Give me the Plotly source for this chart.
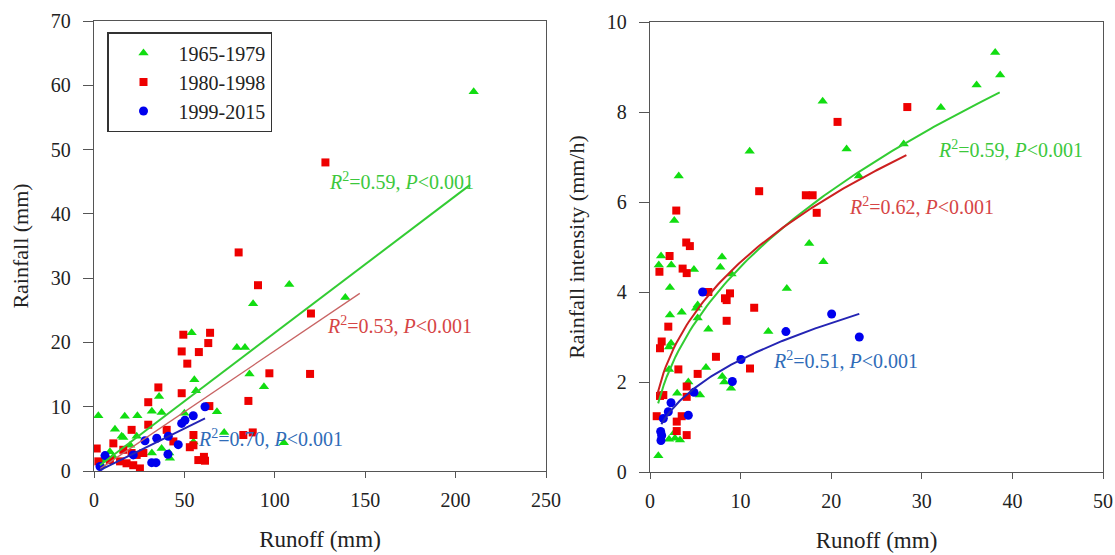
import numpy as np
import plotly.graph_objects as go

# ---------------- data: left panel (Runoff vs Rainfall) ----------------
period_names = ["1965-1979", "1980-1998", "1999-2015"]

left_g_x = [210, 139, 108, 88, 79, 83.5, 86, 94, 54, 55.5, 56.4, 36, 32, 37.4, 24, 17, 2.4, 50, 68,
            72, 11.6, 15.3, 16.2, 23.6, 37.4, 42, 55, 105, 20, 8.8, 10.7, 32, 41.6, 6, 4.2]
left_g_y = [59, 27, 29, 26, 19.2, 19.2, 15.1, 13.1, 21.5, 14.2, 12.5, 11.6, 9.3, 9.1, 8.6, 8.5, 8.6, 9.0, 9.2,
            6.0, 6.5, 5.4, 5.2, 5.4, 3.5, 2.0, 4.5, 4.4, 4.0, 3.0, 2.2, 2.8, 2.8, 1.7, 0.9]

left_r_x = [128, 80, 90.7, 120, 119.5, 97, 85.4, 64.2, 63.2, 58, 49.4, 48.5, 51.6, 48.5, 63.8, 82.6, 87.8,
            55, 55, 53, 57.7, 61.4, 60.8, 35.6, 30, 20.8, 30, 40.2, 10.7, 1.5, 16.2, 20.8, 23.6, 27.3,
            43.9, 8.8, 14.4, 18, 25.4, 21.7, 2.4]
left_r_y = [48, 34, 28.9, 24.5, 15.1, 15.2, 10.9, 21.5, 19.9, 18.5, 21.2, 18.6, 16.7, 12.1, 10.1, 5.6, 6.0,
            5.6, 4.0, 3.7, 1.7, 1.6, 2.2, 13.0, 10.7, 6.4, 7.2, 6.4, 4.3, 3.5, 3.3, 2.8, 2.5, 2.8,
            4.6, 1.7, 1.5, 1.2, 0.4, 0.9, 1.5]

left_b_x = [3.3, 6.1, 21.7, 28.2, 34.7, 41.1, 46.6, 31.9, 34.3, 40.9, 48.5, 50.3, 54.9, 61.4]
left_b_y = [0.7, 2.4, 2.5, 4.7, 5.1, 5.4, 4.1, 1.3, 1.3, 2.6, 7.4, 7.9, 8.6, 10.0]

# linear fits: slope, intercept, x-start, x-end
left_fit_slope = [0.213, 0.19, 0.1386]
left_fit_icpt = [0.2, -0.3, -0.31]
left_fit_x0 = [3.3, 3.5, 3.3]
left_fit_x1 = [208, 147, 61.4]
left_fit_labels = ["0.59", "0.53", "0.70"]
left_lab_x = [129, 128, 56.4]
left_lab_y = [45.1, 22.7, 5.1]

# ---------------- data: right panel (Runoff vs Rainfall intensity) ----------------
right_g_x = [38.1, 38.65, 36.05, 32.1, 19.06, 28.0, 21.7, 11.0, 23.06, 3.17, 2.68, 17.57, 19.14, 1.22, 0.97,
             2.35, 4.85, 7.95, 7.76, 9.0, 15.1, 2.2, 3.5, 2.2, 5.26, 5.08, 5.26, 6.44, 13.06, 2.32, 2.1,
             2.1, 6.18, 7.98, 8.2, 8.94, 4.23, 5.52, 3.0, 2.1, 2.76, 3.31, 2.68, 0.92]
right_g_y = [9.32, 8.82, 8.6, 8.1, 8.24, 7.29, 7.18, 7.13, 6.58, 6.58, 5.59, 5.08, 4.67, 4.8, 4.6,
             4.6, 4.5, 4.78, 4.55, 4.4, 4.08, 4.1, 3.55, 3.49, 3.71, 3.64, 3.42, 3.17, 3.12, 2.86, 2.78,
             2.28, 2.32, 2.12, 2.0, 1.86, 2.0, 1.71, 1.75, 0.73, 0.75, 0.71, 0.87, 0.36]

right_r_x = [28.4, 20.7, 12.05, 17.2, 17.95, 18.4, 2.9, 2.16, 4.0, 4.4, 1.04, 3.6, 4.05, 6.44, 8.28, 8.83,
             8.46, 8.46, 11.5, 2.02, 1.29, 1.1, 3.13, 7.28, 5.26, 11.04, 4.05, 1.47, 1.1, 4.05, 0.74,
             3.5, 2.95, 2.95, 4.05]
right_r_y = [8.11, 7.78, 6.24, 6.15, 6.15, 5.76, 5.81, 4.8, 5.1, 5.02, 4.45, 4.52, 4.42, 4.0, 3.86, 3.97,
             3.82, 3.36, 3.65, 3.23, 2.9, 2.75, 2.28, 2.56, 2.18, 2.3, 1.9, 1.71, 1.69, 1.67, 1.24,
             1.24, 1.12, 0.91, 0.82]

right_b_x = [5.81, 20.05, 15.0, 23.1, 10.04, 9.09, 4.86, 2.32, 2.02, 1.47, 4.23, 1.18, 1.29, 1.21]
right_b_y = [4.0, 3.51, 3.12, 3.0, 2.5, 2.01, 1.77, 1.54, 1.34, 1.19, 1.26, 0.9, 0.81, 0.7]

# power fits y = a * x^b
right_fit_a = [1.6, 1.88, 0.97]
right_fit_b = [0.455, 0.395, 0.41]
right_fit_x0 = [0.9, 0.8, 1.25]
right_fit_x1 = [38.6, 28.3, 23.1]
right_fit_labels = ["0.59", "0.62", "0.51"]
right_lab_x = [31.6, 21.7, 13.4]
right_lab_y = [7.18, 5.91, 2.49]

# ---------------- styling ----------------
FONT = "Liberation Serif"
marker_colors = ["#11dd11", "#ee0000", "#0000ee"]
symbols = ["triangle-up", "square", "circle"]
msizes = [9, 8, 9]
left_line_colors = ["#33cc33", "#c86464", "#2424b4"]
right_line_colors = ["#33cc33", "#cc2020", "#2424b4"]
label_colors = ["#3cc83c", "#d64545", "#2f6cb8"]

fig = go.Figure()

left_pts = [(left_g_x, left_g_y), (left_r_x, left_r_y), (left_b_x, left_b_y)]
right_pts = [(right_g_x, right_g_y), (right_r_x, right_r_y), (right_b_x, right_b_y)]

for i in range(3):
    fig.add_trace(go.Scatter(x=left_pts[i][0], y=left_pts[i][1], mode="markers", name=period_names[i],
                             marker=dict(symbol=symbols[i], size=msizes[i], color=marker_colors[i]),
                             xaxis="x", yaxis="y", showlegend=True))
for i in range(3):
    xs = np.linspace(left_fit_x0[i], left_fit_x1[i], 50)
    fig.add_trace(go.Scatter(x=xs, y=left_fit_slope[i] * xs + left_fit_icpt[i], mode="lines",
                             line=dict(color=left_line_colors[i], width=2 if i != 1 else 1.3),
                             xaxis="x", yaxis="y", showlegend=False, hoverinfo="skip"))
for i in range(3):
    fig.add_trace(go.Scatter(x=right_pts[i][0], y=right_pts[i][1], mode="markers", name=period_names[i],
                             marker=dict(symbol=symbols[i], size=msizes[i], color=marker_colors[i]),
                             xaxis="x2", yaxis="y2", showlegend=False))
for i in range(3):
    xs = np.linspace(right_fit_x0[i], right_fit_x1[i], 120)
    fig.add_trace(go.Scatter(x=xs, y=right_fit_a[i] * xs ** right_fit_b[i], mode="lines",
                             line=dict(color=right_line_colors[i], width=2),
                             xaxis="x2", yaxis="y2", showlegend=False, hoverinfo="skip"))

annotations = []
for i in range(3):
    annotations.append(dict(x=left_lab_x[i], y=left_lab_y[i], xref="x", yref="y",
                            text="<i>R</i><sup>2</sup>=" + left_fit_labels[i] + ", <i>P</i>&lt;0.001",
                            showarrow=False, xanchor="left", yanchor="middle",
                            font=dict(family=FONT, size=20, color=label_colors[i])))
    annotations.append(dict(x=right_lab_x[i], y=right_lab_y[i], xref="x2", yref="y2",
                            text="<i>R</i><sup>2</sup>=" + right_fit_labels[i] + ", <i>P</i>&lt;0.001",
                            showarrow=False, xanchor="left", yanchor="middle",
                            font=dict(family=FONT, size=20, color=label_colors[i])))

axis_common = dict(showline=True, linecolor="#555555", linewidth=1.3, mirror=True,
                   ticks="outside", tickcolor="#555555", tickwidth=1.2, automargin=False,
                   showgrid=False, zeroline=False, tickfont=dict(family=FONT, size=20, color="#222"))
xaxis_extra = dict(ticklen=6, ticklabelstandoff=5)
yaxis_extra = dict(ticklen=10, ticklabelstandoff=8)

fig.update_layout(
    width=1115, height=555,
    margin=dict(l=0, r=0, t=0, b=0),
    paper_bgcolor="white", plot_bgcolor="white",
    font=dict(family=FONT, color="#222"),
    xaxis=dict(domain=[94 / 1115, 546 / 1115], range=[0, 250], tickvals=[0, 50, 100, 150, 200, 250],
               anchor="y", title=dict(text="Runoff (mm)", font=dict(family=FONT, size=23), standoff=20),
               **axis_common, **xaxis_extra),
    yaxis=dict(domain=[84 / 555, 534 / 555], range=[0, 70], tickvals=[0, 10, 20, 30, 40, 50, 60, 70],
               anchor="x", title=dict(text="Rainfall (mm)", font=dict(family=FONT, size=22), standoff=16),
               **axis_common, **yaxis_extra),
    xaxis2=dict(domain=[650 / 1115, 1103 / 1115], range=[0, 50], tickvals=[0, 10, 20, 30, 40, 50],
                anchor="y2", title=dict(text="Runoff (mm)", font=dict(family=FONT, size=23), standoff=20),
                **axis_common, **xaxis_extra),
    yaxis2=dict(domain=[83 / 555, 533 / 555], range=[0, 10], tickvals=[0, 2, 4, 6, 8, 10],
                anchor="x2", title=dict(text="Rainfall intensity (mm/h)", font=dict(family=FONT, size=22), standoff=16),
                **axis_common, **yaxis_extra),
    legend=dict(x=107 / 1115, y=1 - 32 / 555, xanchor="left", yanchor="top",
                bordercolor="#333333", borderwidth=1.5, bgcolor="white",
                font=dict(family=FONT, size=20, color="#222"), itemwidth=60, tracegroupgap=0),
    annotations=annotations,
    showlegend=True,
)

fig.write_html("out.html")
